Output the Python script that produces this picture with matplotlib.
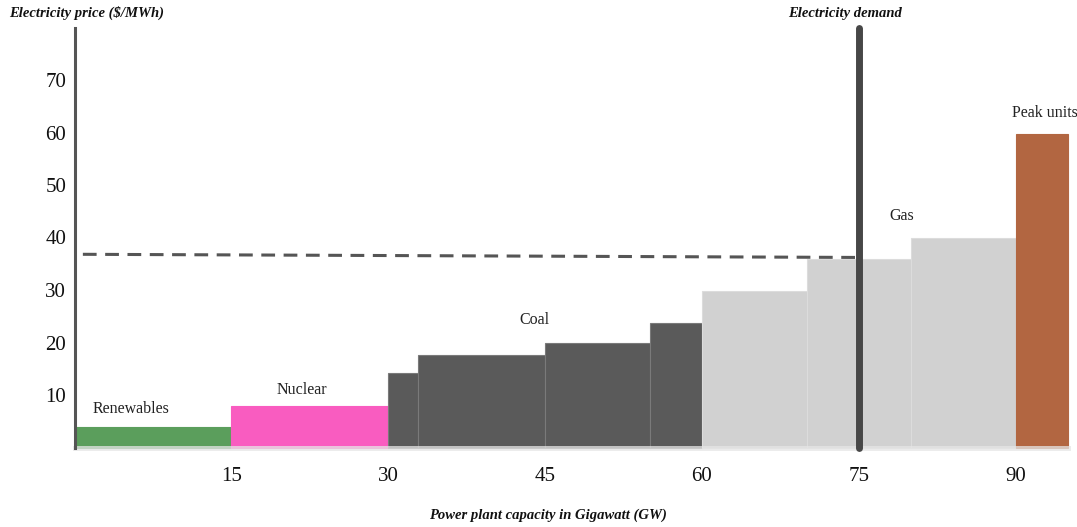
import matplotlib
matplotlib.use("Agg")
import matplotlib.pyplot as plt

# ---- data ----
categories = ["Renewables", "Nuclear", "Coal", "Coal", "Coal", "Coal",
              "Gas", "Gas", "Gas", "Gas", "Peak units"]
left_edges = [0, 15, 30, 32.8, 45, 55, 60, 70, 75, 80, 90]
widths = [15, 15, 2.8, 12.2, 10, 5, 10, 5, 5, 10, 5]
prices = [3.9, 8.0, 14.1, 17.6, 19.9, 23.8, 29.9, 35.9, 35.9, 39.9, 59.8]
group_colors = {"Renewables": "#5b9e5c", "Nuclear": "#f95cc0", "Coal": "#5a5a5a",
                "Gas": "#d1d1d1", "Peak units": "#b26641"}
group_edges = {"Renewables": "#5b9e5c", "Nuclear": "#f95cc0", "Coal": "#7a7a7a",
               "Gas": "#dcdcdc", "Peak units": "#b26641"}
label_text = ["Renewables", "Nuclear", "Coal", "Gas", "Peak units"]
label_x = [5.4, 21.7, 44.0, 79.1, 92.8]
label_y = [7.3, 10.9, 24.3, 44.1, 63.7]
demand = 75
clearing_x = [0.8, 75]
clearing_price = [36.8, 36.2]
xticks = [15, 30, 45, 60, 75, 90]
yticks = [10, 20, 30, 40, 50, 60, 70]

plt.rcParams['font.family'] = ['Liberation Serif', 'DejaVu Serif']

fig = plt.figure(figsize=(10.77, 5.27), dpi=100)
# x: 0 -> px 74.5, 10.458 px/unit ; y: 0 -> px 447.5, 5.25 px/unit
xl, xr = -2.5, 96.5
yb, yt = -2, 82
px_x0, sx = 74.5, 10.458
px_y0, sy = 447.5, 5.25
L = px_x0 + xl * sx
R = px_x0 + xr * sx
B = px_y0 - yb * sy
T = px_y0 - yt * sy
ax = fig.add_axes([L / 1077, (527 - B) / 527, (R - L) / 1077, (B - T) / 527])
ax.set_xlim(xl, xr)
ax.set_ylim(yb, yt)

for cat, l, w, p in zip(categories, left_edges, widths, prices):
    ax.bar(l, p, width=w, align='edge', color=group_colors[cat],
           edgecolor=group_edges[cat], linewidth=0.8, zorder=2)

for t, x, y in zip(label_text, label_x, label_y):
    ax.text(x, y, t, ha='center', va='center', fontsize=11.5, color='#222222', zorder=5)

ax.plot(clearing_x, clearing_price, linestyle=(0, (4.5, 2.8)), color='#555555',
        linewidth=2.2, zorder=4)

ax.plot([demand, demand], [0, 80], color='#474747', linewidth=5,
        solid_capstyle='round', zorder=6)

for s in ['top', 'right']:
    ax.spines[s].set_visible(False)
ax.spines['left'].set_position(('data', 0))
ax.spines['left'].set_bounds(0, 80)
ax.spines['left'].set_color('#555555')
ax.spines['left'].set_linewidth(2.2)
ax.spines['left'].set_zorder(7)
ax.spines['bottom'].set_position(('data', 0))
ax.spines['bottom'].set_bounds(0, 95)
ax.spines['bottom'].set_color('#e6e6e6')
ax.spines['bottom'].set_alpha(0.75)
ax.spines['bottom'].set_linewidth(3.6)
ax.spines['bottom'].set_zorder(3)

ax.set_xticks(xticks)
ax.set_xticklabels([str(v) for v in xticks])
ax.set_yticks(yticks)
ax.set_yticklabels([str(v) for v in yticks])
ax.tick_params(axis='x', length=0, pad=14, labelsize=15, labelcolor='#111111')
ax.tick_params(axis='y', length=0, pad=6, labelsize=15, labelcolor='#111111')

fig.text(9 / 1077, 1 - 13 / 527, "Electricity price ($/MWh)", ha='left', va='center',
         fontsize=10.5, fontweight='bold', fontstyle='italic', color='#111111')
fig.text(845 / 1077, 1 - 13 / 527, "Electricity demand", ha='center', va='center',
         fontsize=10.5, fontweight='bold', fontstyle='italic', color='#111111')
fig.text(548 / 1077, 1 - 515 / 527, "Power plant capacity in Gigawatt (GW)", ha='center',
         va='center', fontsize=10.5, fontweight='bold', fontstyle='italic', color='#111111')

fig.savefig("out.png", dpi=100, facecolor='white')
